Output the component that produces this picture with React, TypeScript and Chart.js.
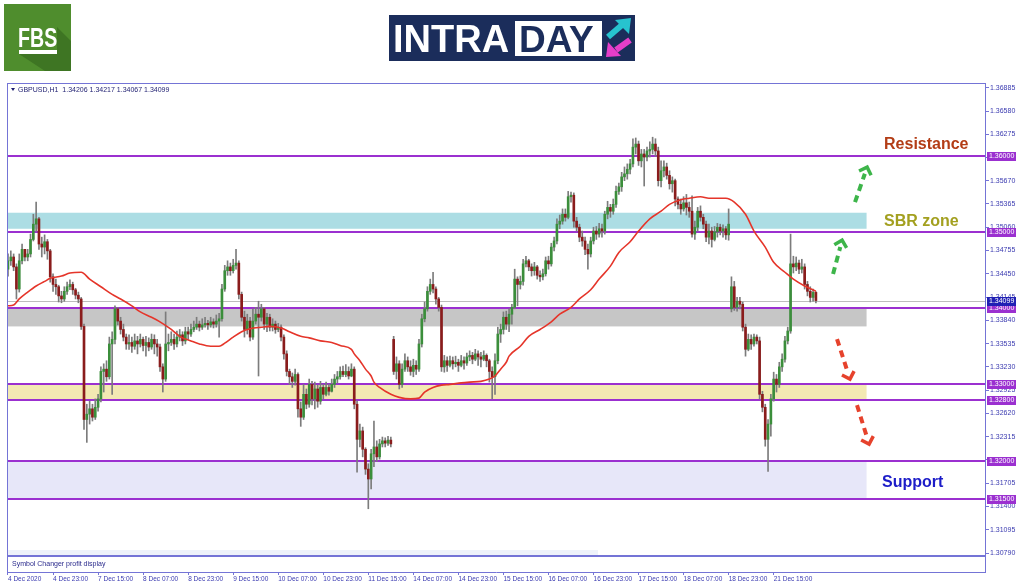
import React, { useEffect, useRef } from 'react';
import { Chart, registerables } from 'chart.js';

Chart.register(...registerables);

// ---------------- DATA ----------------
const symbolName = 'GBPUSD,H1';

// hourly closes, 4 Dec 2020 07:00 -> 22 Dec 2020 06:00 (bar index = hour bar)
const closes = [
  1.3462, 1.3467, 1.3454, 1.3425, 1.3462, 1.3477, 1.3467, 1.3471, 1.3490, 1.3510,
  1.3517, 1.3484, 1.3480, 1.3487, 1.3475, 1.3441, 1.3431, 1.3428, 1.3416, 1.3412,
  1.3422, 1.3428, 1.3431, 1.3424, 1.3417, 1.3412, 1.3376, 1.3254, 1.3261, 1.3268,
  1.3257, 1.3270, 1.3281, 1.3317, 1.3320, 1.3310, 1.3353, 1.3359, 1.3399, 1.3383,
  1.3372, 1.3362, 1.3353, 1.3355, 1.3350, 1.3357, 1.3353, 1.3359, 1.3351, 1.3355,
  1.3349, 1.3359, 1.3353, 1.3349, 1.3323, 1.3307, 1.3353, 1.3355, 1.3359, 1.3353,
  1.3362, 1.3365, 1.3357, 1.3369, 1.3366, 1.3372, 1.3375, 1.3379, 1.3375, 1.3378,
  1.3380, 1.3378, 1.3382, 1.3379, 1.3383, 1.3386, 1.3425, 1.3449, 1.3454, 1.3449,
  1.3456, 1.3459, 1.3418, 1.3388, 1.3372, 1.3383, 1.3362, 1.3383, 1.3392, 1.3388,
  1.3399, 1.3379, 1.3388, 1.3375, 1.3379, 1.3372, 1.3375, 1.3362, 1.3340, 1.3317,
  1.3310, 1.3304, 1.3313, 1.3268, 1.3257, 1.3287, 1.3274, 1.3300, 1.3281, 1.3294,
  1.3278, 1.3296, 1.3287, 1.3296, 1.3291, 1.3300, 1.3307, 1.3310, 1.3317, 1.3313,
  1.3317, 1.3311, 1.3320, 1.3274, 1.3228, 1.3239, 1.3215, 1.3189, 1.3176, 1.3209,
  1.3218, 1.3205, 1.3222, 1.3226, 1.3223, 1.3227, 1.3222, 1.3317, 1.3327, 1.3300,
  1.3320, 1.3331, 1.3323, 1.3317, 1.3325, 1.3320, 1.3353, 1.3386, 1.3399, 1.3422,
  1.3431, 1.3425, 1.3412, 1.3401, 1.3323, 1.3331, 1.3325, 1.3331, 1.3327, 1.3329,
  1.3325, 1.3331, 1.3328, 1.3336, 1.3338, 1.3333, 1.3340, 1.3336, 1.3333, 1.3338,
  1.3331, 1.3317, 1.3310, 1.3331, 1.3366, 1.3372, 1.3388, 1.3379, 1.3392, 1.3401,
  1.3438, 1.3431, 1.3435, 1.3458, 1.3462, 1.3454, 1.3449, 1.3454, 1.3443, 1.3441,
  1.3445, 1.3462, 1.3458, 1.3480, 1.3488, 1.3510, 1.3514, 1.3523, 1.3519, 1.3546,
  1.3548, 1.3514, 1.3506, 1.3493, 1.3488, 1.3477, 1.3471, 1.3488, 1.3501, 1.3497,
  1.3504, 1.3501, 1.3523, 1.3532, 1.3527, 1.3536, 1.3553, 1.3559, 1.3572, 1.3576,
  1.3582, 1.3589, 1.3611, 1.3615, 1.3593, 1.3602, 1.3598, 1.3606, 1.3608, 1.3615,
  1.3606, 1.3567, 1.3580, 1.3585, 1.3574, 1.3563, 1.3567, 1.3543, 1.3536, 1.3530,
  1.3538, 1.3532, 1.3527, 1.3497, 1.3506, 1.3527, 1.3519, 1.3510, 1.3493, 1.3501,
  1.3490, 1.3500, 1.3506, 1.3501, 1.3504, 1.3496, 1.3510, 1.3428, 1.3401, 1.3409,
  1.3405, 1.3375, 1.3346, 1.3359, 1.3353, 1.3362, 1.3357, 1.3287, 1.3270, 1.3228,
  1.3248, 1.3281, 1.3307, 1.3300, 1.3323, 1.3333, 1.3357, 1.3370, 1.3458, 1.3454,
  1.3459, 1.3451, 1.3454, 1.3431, 1.3422, 1.3414, 1.34206, 1.34099,
];

const highs = [
  1.3471, 1.3475, 1.3471, 1.3458, 1.3471, 1.3484, 1.3477, 1.3477, 1.3497, 1.3523,
  1.3539, 1.3519, 1.3493, 1.3496, 1.3490, 1.3477, 1.3445, 1.3438, 1.3430, 1.3422,
  1.3428, 1.3434, 1.3437, 1.3434, 1.3426, 1.3421, 1.3414, 1.3379, 1.3274, 1.3278,
  1.3274, 1.3281, 1.3287, 1.3323, 1.3327, 1.3331, 1.3362, 1.3369, 1.3403, 1.3401,
  1.3388, 1.3379, 1.3366, 1.3365, 1.3362, 1.3366, 1.3363, 1.3366, 1.3362, 1.3363,
  1.3361, 1.3366, 1.3365, 1.3359, 1.3353, 1.3327, 1.3395, 1.3366, 1.3369, 1.3366,
  1.3370, 1.3372, 1.3369, 1.3375, 1.3375, 1.3379, 1.3383, 1.3388, 1.3383, 1.3386,
  1.3388, 1.3384, 1.3388, 1.3386, 1.3391, 1.3393, 1.3431, 1.3456, 1.3462, 1.3459,
  1.3464, 1.3477, 1.3462, 1.3421, 1.3396, 1.3392, 1.3388, 1.3399, 1.3401, 1.3409,
  1.3405, 1.3401, 1.3393, 1.3392, 1.3386, 1.3383, 1.3380, 1.3378, 1.3365, 1.3344,
  1.3320, 1.3315, 1.3320, 1.3315, 1.3277, 1.3300, 1.3294, 1.3307, 1.3304, 1.3303,
  1.3299, 1.3304, 1.3300, 1.3303, 1.3300, 1.3307, 1.3313, 1.3317, 1.3323, 1.3324,
  1.3326, 1.3323, 1.3327, 1.3323, 1.3278, 1.3248, 1.3244, 1.3217, 1.3196, 1.3215,
  1.3252, 1.3226, 1.3228, 1.3231, 1.3230, 1.3232, 1.3231, 1.3363, 1.3336, 1.3331,
  1.3327, 1.3340, 1.3336, 1.3331, 1.3333, 1.3331, 1.3359, 1.3392, 1.3408, 1.3428,
  1.3438, 1.3447, 1.3428, 1.3414, 1.3404, 1.3338, 1.3336, 1.3337, 1.3336, 1.3337,
  1.3333, 1.3338, 1.3336, 1.3341, 1.3344, 1.3342, 1.3346, 1.3344, 1.3342, 1.3344,
  1.3340, 1.3333, 1.3323, 1.3340, 1.3375, 1.3379, 1.3395, 1.3396, 1.3399, 1.3405,
  1.3451, 1.3441, 1.3442, 1.3464, 1.3468, 1.3464, 1.3458, 1.3460, 1.3456, 1.3449,
  1.3451, 1.3467, 1.3468, 1.3485, 1.3493, 1.3517, 1.3522, 1.3530, 1.3530, 1.3553,
  1.3552, 1.3551, 1.3519, 1.3510, 1.3501, 1.3493, 1.3484, 1.3493, 1.3506, 1.3507,
  1.3511, 1.3510, 1.3527, 1.3540, 1.3536, 1.3543, 1.3560, 1.3564, 1.3578, 1.3585,
  1.3589, 1.3595, 1.3622, 1.3623, 1.3619, 1.3608, 1.3608, 1.3611, 1.3618, 1.3624,
  1.3622, 1.3611, 1.3593, 1.3593, 1.3590, 1.3580, 1.3572, 1.3569, 1.3546, 1.3543,
  1.3546, 1.3549, 1.3539, 1.3547, 1.3514, 1.3532, 1.3534, 1.3523, 1.3514, 1.3510,
  1.3506, 1.3507, 1.3511, 1.3510, 1.3509, 1.3507, 1.3530, 1.3441, 1.3435, 1.3414,
  1.3414, 1.3408, 1.3379, 1.3366, 1.3365, 1.3366, 1.3365, 1.3362, 1.3291, 1.3274,
  1.3254, 1.3287, 1.3316, 1.3313, 1.3329, 1.3340, 1.3363, 1.3375, 1.3497, 1.3468,
  1.3467, 1.3463, 1.3464, 1.3458, 1.3435, 1.3428, 1.3425, 1.34217,
];

const lows = [
  1.3442, 1.3456, 1.3449, 1.3412, 1.3421, 1.3458, 1.3462, 1.3462, 1.3467, 1.3488,
  1.3501, 1.3477, 1.3467, 1.3471, 1.3464, 1.3434, 1.3422, 1.3418, 1.3408, 1.3407,
  1.3409, 1.3418, 1.3424, 1.3418, 1.3412, 1.3407, 1.3372, 1.3241, 1.3224, 1.3248,
  1.3252, 1.3254, 1.3265, 1.3277, 1.3290, 1.3304, 1.3307, 1.3287, 1.3353, 1.3378,
  1.3366, 1.3357, 1.3346, 1.3346, 1.3342, 1.3346, 1.3340, 1.3349, 1.3344, 1.3337,
  1.3344, 1.3346, 1.3340, 1.3337, 1.3317, 1.3290, 1.3304, 1.3344, 1.3351, 1.3346,
  1.3349, 1.3357, 1.3351, 1.3353, 1.3359, 1.3363, 1.3369, 1.3372, 1.3370, 1.3372,
  1.3375, 1.3372, 1.3375, 1.3374, 1.3375, 1.3362, 1.3383, 1.3422, 1.3443, 1.3443,
  1.3446, 1.3451, 1.3412, 1.3383, 1.3362, 1.3366, 1.3357, 1.3359, 1.3379, 1.3311,
  1.3383, 1.3372, 1.3369, 1.3370, 1.3370, 1.3367, 1.3369, 1.3357, 1.3333, 1.3311,
  1.3300, 1.3296, 1.3299, 1.3257, 1.3245, 1.3254, 1.3268, 1.3270, 1.3273, 1.3268,
  1.3270, 1.3274, 1.3281, 1.3285, 1.3286, 1.3290, 1.3296, 1.3302, 1.3307, 1.3310,
  1.3310, 1.3307, 1.3310, 1.3268, 1.3185, 1.3218, 1.3205, 1.3182, 1.3137, 1.3163,
  1.3192, 1.3199, 1.3202, 1.3218, 1.3218, 1.3220, 1.3218, 1.3313, 1.3307, 1.3294,
  1.3296, 1.3317, 1.3317, 1.3312, 1.3310, 1.3313, 1.3317, 1.3349, 1.3382, 1.3396,
  1.3418, 1.3420, 1.3405, 1.3396, 1.3317, 1.3316, 1.3317, 1.3323, 1.3320, 1.3323,
  1.3317, 1.3323, 1.3320, 1.3325, 1.3331, 1.3327, 1.3331, 1.3325, 1.3323, 1.3331,
  1.3323, 1.3303, 1.3281, 1.3287, 1.3327, 1.3355, 1.3366, 1.3372, 1.3369, 1.3379,
  1.3399, 1.3403, 1.3425, 1.3430, 1.3454, 1.3449, 1.3442, 1.3443, 1.3438, 1.3435,
  1.3437, 1.3442, 1.3451, 1.3455, 1.3475, 1.3484, 1.3504, 1.3510, 1.3514, 1.3517,
  1.3539, 1.3506, 1.3501, 1.3487, 1.3481, 1.3470, 1.3451, 1.3467, 1.3484, 1.3490,
  1.3493, 1.3493, 1.3497, 1.3517, 1.3519, 1.3523, 1.3532, 1.3549, 1.3553, 1.3567,
  1.3569, 1.3576, 1.3585, 1.3602, 1.3587, 1.3585, 1.3560, 1.3593, 1.3598, 1.3602,
  1.3599, 1.3560, 1.3559, 1.3572, 1.3569, 1.3556, 1.3552, 1.3534, 1.3530, 1.3523,
  1.3527, 1.3522, 1.3519, 1.3493, 1.3490, 1.3501, 1.3514, 1.3504, 1.3487, 1.3484,
  1.3480, 1.3488, 1.3493, 1.3496, 1.3493, 1.3490, 1.3489, 1.3395, 1.3397, 1.3396,
  1.3399, 1.3370, 1.3337, 1.3344, 1.3346, 1.3350, 1.3353, 1.3281, 1.3264, 1.3219,
  1.3186, 1.3232, 1.3278, 1.3290, 1.3296, 1.3317, 1.3329, 1.3353, 1.3367, 1.3446,
  1.3449, 1.3445, 1.3446, 1.3425, 1.3416, 1.3408, 1.3409, 1.34067,
];

// opening prices of bars that follow a gap (first bar, weekend opens)
const gapOpenBars = [0, 137, 257];
const gapOpenValues = [1.3451, 1.3359, 1.3399];

// moving average
const maBars = [0, 2, 4, 7, 10, 13, 15, 19, 22, 26, 29, 33, 37, 40, 44, 47, 51, 54, 58, 61, 65, 68, 72, 75, 77,
  80, 83, 86, 90, 93, 97, 100, 104, 107, 111, 115, 118, 122, 123, 125, 127, 129, 130, 132, 136, 139, 143, 146,
  148, 151, 154, 157, 161, 164, 168, 171, 173, 175, 177, 178, 182, 185, 189, 193, 196, 200, 203, 207, 210, 214,
  217, 221, 224, 228, 232, 235, 239, 242, 246, 249, 253, 255, 258, 262, 265, 269, 272, 276, 279, 283, 287];
const maValues = [1.3403, 1.3404, 1.3412, 1.3421, 1.3429, 1.3435, 1.3439, 1.3442, 1.3446, 1.3447, 1.3438, 1.3428,
  1.3418, 1.3412, 1.3403, 1.3395, 1.3388, 1.3382, 1.3372, 1.3363, 1.3357, 1.3353, 1.3350, 1.3350, 1.3354, 1.3362,
  1.3369, 1.3373, 1.3375, 1.3376, 1.3374, 1.3369, 1.3363, 1.3361, 1.3357, 1.3355, 1.3351, 1.3346, 1.3340, 1.3331,
  1.3320, 1.3311, 1.3303, 1.3296, 1.3287, 1.3283, 1.3281, 1.3282, 1.3290, 1.3296, 1.3299, 1.3300, 1.3302, 1.3303,
  1.3304, 1.3307, 1.3311, 1.3320, 1.3329, 1.3337, 1.3350, 1.3363, 1.3372, 1.3382, 1.3392, 1.3401, 1.3412, 1.3424,
  1.3438, 1.3455, 1.3473, 1.3487, 1.3501, 1.3517, 1.3527, 1.3536, 1.3542, 1.3544, 1.3546, 1.3544, 1.3544, 1.3544,
  1.3539, 1.3523, 1.3501, 1.3480, 1.3460, 1.3447, 1.3438, 1.3429, 1.3422];

const xTickBars = [0, 16, 32, 48, 64, 80, 96, 112, 128, 144, 160, 176, 192, 208, 224, 240, 256, 272];
const xTickLabels = ['4 Dec 2020', '4 Dec 23:00', '7 Dec 15:00', '8 Dec 07:00', '8 Dec 23:00', '9 Dec 15:00',
  '10 Dec 07:00', '10 Dec 23:00', '11 Dec 15:00', '14 Dec 07:00', '14 Dec 23:00', '15 Dec 15:00',
  '16 Dec 07:00', '16 Dec 23:00', '17 Dec 15:00', '18 Dec 07:00', '18 Dec 23:00', '21 Dec 15:00'];

const yTickValues = [1.36885, 1.3658, 1.36275, 1.3597, 1.3567, 1.35365, 1.3506, 1.34755, 1.3445, 1.34145,
  1.3384, 1.33535, 1.3323, 1.32925, 1.3262, 1.32315, 1.3201, 1.31705, 1.314, 1.31095, 1.3079];
const yMin = 1.30541;
const yMax = 1.369505;
const xMin = -0.355;
const xMax = 347.07;

const levelPrices = [1.36, 1.35, 1.34, 1.33, 1.328, 1.32, 1.315];
const currentPrice = 1.34099;

const zoneLows = [1.3504, 1.3376, 1.328, 1.315];
const zoneHighs = [1.3525, 1.34, 1.33, 1.32];
const zoneStartBar = 0;
const zoneEndBar = 305;

const noteTexts = ['Resistance', 'SBR zone', 'Support'];
const noteBars = [311.2, 311.2, 310.5];
const notePrices = [1.36137, 1.3514, 1.31719];

const arrowTailBars = [293.1, 300.9, 294.5, 301.6];
const arrowTailPrices = [1.34446, 1.35389, 1.33594, 1.32729];
const arrowTipBars = [296.3, 305.2, 299.1, 305.9];
const arrowTipPrices = [1.34891, 1.35848, 1.33069, 1.32217];
const arrowUp = [true, true, false, false];

// ---------------- STYLE ----------------
const FONT = "'Liberation Sans', Arial, sans-serif";
const FRAME = '#7474d6';
const AXIS_TEXT = '#3a3ab0';
const LEVEL = '#9b30d0';
const BULL = '#3b8e3b';
const BEAR = '#8a1c1c';
const WICK = '#7c7c7c';
const ZONE_COLORS = ['#acdde4', '#c6c6c6', '#f3e9b3', '#e7e7f9'];
const NOTE_COLORS = ['#b33d16', '#a3a020', '#1c1cc8'];
const ARROW_UP = '#3db54a';
const ARROW_DOWN = '#e6422c';

const opens = closes.map((c, i) => {
  const g = gapOpenBars.indexOf(i);
  return g >= 0 ? gapOpenValues[g] : closes[i - 1];
});

function drawArrow(ctx: CanvasRenderingContext2D, x0: number, y0: number, x1: number, y1: number, color: string) {
  const dx = x1 - x0;
  const dy = y1 - y0;
  const len = Math.hypot(dx, dy);
  const ux = dx / len;
  const uy = dy / len;
  ctx.save();
  ctx.strokeStyle = color;
  ctx.lineWidth = 4;
  ctx.setLineDash([7, 5]);
  ctx.beginPath();
  ctx.moveTo(x0, y0);
  ctx.lineTo(x1 - ux * 7, y1 - uy * 7);
  ctx.stroke();
  ctx.setLineDash([]);
  ctx.lineWidth = 3.5;
  const bx = -ux;
  const by = -uy;
  const rot = (a: number) => [bx * Math.cos(a) - by * Math.sin(a), bx * Math.sin(a) + by * Math.cos(a)];
  const [a1x, a1y] = rot(Math.PI / 4);
  const [a2x, a2y] = rot(-Math.PI / 4);
  const s = 9;
  ctx.beginPath();
  ctx.moveTo(x1 + a1x * s, y1 + a1y * s);
  ctx.lineTo(x1, y1);
  ctx.lineTo(x1 + a2x * s, y1 + a2y * s);
  ctx.stroke();
  ctx.restore();
}

function drawLogos(ctx: CanvasRenderingContext2D) {
  // FBS logo
  ctx.save();
  ctx.fillStyle = '#4f8d2d';
  ctx.fillRect(4, 4, 67, 67);
  ctx.fillStyle = '#3e7523';
  ctx.beginPath();
  ctx.moveTo(57, 27);
  ctx.lineTo(71, 41);
  ctx.lineTo(71, 71);
  ctx.lineTo(45, 71);
  ctx.lineTo(19, 54);
  ctx.lineTo(57, 54);
  ctx.closePath();
  ctx.fill();
  ctx.fillStyle = '#ffffff';
  ctx.translate(18, 47);
  ctx.scale(0.7, 1);
  ctx.font = `bold 28px ${FONT}`;
  ctx.textBaseline = 'alphabetic';
  ctx.fillText('FBS', 0, 0);
  ctx.restore();
  ctx.fillStyle = '#ffffff';
  ctx.fillRect(19, 50, 38, 4);

  // INTRADAY logo
  ctx.save();
  ctx.fillStyle = '#1b2d5b';
  ctx.fillRect(389, 15, 246, 46);
  ctx.fillStyle = '#ffffff';
  ctx.font = `bold 38px ${FONT}`;
  ctx.textBaseline = 'alphabetic';
  ctx.fillText('INTRA', 393, 52);
  ctx.fillRect(515, 21, 87, 35);
  ctx.fillStyle = '#1b2d5b';
  ctx.font = `bold 37px ${FONT}`;
  ctx.fillText('DAY', 519, 52);
  // cyan arrow
  ctx.strokeStyle = '#27c3cf';
  ctx.lineWidth = 6;
  ctx.beginPath();
  ctx.moveTo(608, 37);
  ctx.lineTo(622, 25);
  ctx.stroke();
  ctx.fillStyle = '#27c3cf';
  ctx.beginPath();
  ctx.moveTo(631, 18);
  ctx.lineTo(615, 20);
  ctx.lineTo(629, 34);
  ctx.closePath();
  ctx.fill();
  // magenta arrow
  ctx.strokeStyle = '#e63ec9';
  ctx.beginPath();
  ctx.moveTo(630, 40);
  ctx.lineTo(616, 50);
  ctx.stroke();
  ctx.fillStyle = '#e63ec9';
  ctx.beginPath();
  ctx.moveTo(606, 57);
  ctx.lineTo(608, 42);
  ctx.lineTo(621, 56);
  ctx.closePath();
  ctx.fill();
  ctx.restore();
}

const overlayPlugin = {
  id: 'mtOverlay',
  beforeDatasetsDraw(chart: any) {
    const { ctx, chartArea: a, scales } = chart;
    const xs = scales.x;
    const ys = scales.y;
    ctx.save();
    // zones
    zoneLows.forEach((lo, i) => {
      const x0 = xs.getPixelForValue(zoneStartBar);
      const x1 = xs.getPixelForValue(zoneEndBar);
      const y0 = ys.getPixelForValue(zoneHighs[i]);
      const y1 = ys.getPixelForValue(lo);
      ctx.fillStyle = ZONE_COLORS[i];
      ctx.fillRect(x0, y0, x1 - x0, y1 - y0);
    });
    // current price line
    const yc = Math.round(ys.getPixelForValue(currentPrice)) + 0.5;
    ctx.strokeStyle = '#bdbdbd';
    ctx.lineWidth = 1;
    ctx.beginPath();
    ctx.moveTo(a.left, yc);
    ctx.lineTo(a.right, yc);
    ctx.stroke();
    // levels
    ctx.strokeStyle = LEVEL;
    ctx.lineWidth = 2;
    levelPrices.forEach((p) => {
      const yy = Math.round(ys.getPixelForValue(p));
      ctx.beginPath();
      ctx.moveTo(a.left, yy);
      ctx.lineTo(a.right, yy);
      ctx.stroke();
    });
    ctx.restore();
  },
  afterDraw(chart: any) {
    const { ctx, chartArea: a, scales } = chart;
    const xs = scales.x;
    const ys = scales.y;
    ctx.save();

    // sub window
    const subTop = a.bottom - 17;
    ctx.fillStyle = '#ffffff';
    ctx.fillRect(a.left + 1, subTop, a.right - a.left - 1, a.bottom - subTop);
    ctx.fillStyle = '#eef2fa';
    ctx.fillRect(a.left + 1, subTop - 5, 590, 5);
    ctx.fillStyle = FRAME;
    ctx.fillRect(a.left, subTop, a.right - a.left, 2);
    ctx.fillStyle = '#2a2a8c';
    ctx.font = `7px ${FONT}`;
    ctx.textBaseline = 'alphabetic';
    ctx.textAlign = 'left';
    ctx.fillText('Symbol Changer profit display', a.left + 5, subTop + 11);

    // frame top & left
    ctx.fillStyle = FRAME;
    ctx.fillRect(a.left, a.top, a.right - a.left, 1);
    ctx.fillRect(a.left, a.top, 1, a.bottom - a.top);

    // header
    const last = closes.length - 1;
    ctx.fillStyle = '#1e1e70';
    ctx.beginPath();
    ctx.moveTo(a.left + 4, a.top + 5);
    ctx.lineTo(a.left + 8, a.top + 5);
    ctx.lineTo(a.left + 6, a.top + 8);
    ctx.closePath();
    ctx.fill();
    ctx.font = `7px ${FONT}`;
    ctx.fillText(
      `${symbolName}  ${opens[last].toFixed(5)} ${highs[last].toFixed(5)} ${lows[last].toFixed(5)} ${closes[last].toFixed(5)}`,
      a.left + 11, a.top + 9,
    );

    // price labels on the right axis
    ctx.font = `7px ${FONT}`;
    ctx.textBaseline = 'middle';
    const boxAt = (p: number, color: string) => {
      const yy = Math.round(ys.getPixelForValue(p));
      ctx.fillStyle = color;
      ctx.fillRect(a.right + 2, yy - 4, 29, 9);
      ctx.fillStyle = '#ffffff';
      ctx.fillText(p.toFixed(5), a.right + 4, yy + 0.5);
    };
    levelPrices.forEach((p) => boxAt(p, LEVEL));
    boxAt(currentPrice, '#2020b4');

    // notes
    ctx.font = `bold 16px ${FONT}`;
    ctx.textBaseline = 'middle';
    noteTexts.forEach((t, i) => {
      ctx.fillStyle = NOTE_COLORS[i];
      ctx.fillText(t, xs.getPixelForValue(noteBars[i]), ys.getPixelForValue(notePrices[i]));
    });

    // arrows
    arrowTailBars.forEach((b, i) => {
      drawArrow(
        ctx,
        xs.getPixelForValue(b), ys.getPixelForValue(arrowTailPrices[i]),
        xs.getPixelForValue(arrowTipBars[i]), ys.getPixelForValue(arrowTipPrices[i]),
        arrowUp[i] ? ARROW_UP : ARROW_DOWN,
      );
    });
    ctx.restore();

    drawLogos(ctx);
  },
};

export default function App() {
  const ref = useRef<HTMLCanvasElement | null>(null);

  useEffect(() => {
    if (!ref.current) return;
    const wickData = closes.map((_, i) => ({ x: i, y: [lows[i], highs[i]] }));
    const bodyData = closes.map((c, i) => ({ x: i, y: [opens[i], c] }));
    const bodyColors = closes.map((c, i) => (c >= opens[i] ? BULL : BEAR));
    const maData = maBars.map((b, i) => ({ x: b, y: maValues[i] }));

    const chart = new Chart(ref.current, {
      type: 'bar',
      data: {
        datasets: [
          {
            type: 'line',
            label: 'MA',
            data: maData,
            borderColor: '#e5352a',
            borderWidth: 1.6,
            pointRadius: 0,
            cubicInterpolationMode: 'monotone',
            order: 0,
          } as any,
          {
            type: 'bar',
            label: 'body',
            data: bodyData,
            backgroundColor: bodyColors,
            borderWidth: 0,
            barThickness: 2,
            minBarLength: 1,
            grouped: false,
            order: 1,
          } as any,
          {
            type: 'bar',
            label: 'wick',
            data: wickData,
            backgroundColor: WICK,
            borderWidth: 0,
            barThickness: 1,
            grouped: false,
            order: 2,
          } as any,
        ],
      },
      options: {
        animation: false,
        responsive: true,
        maintainAspectRatio: false,
        devicePixelRatio: 1,
        events: [],
        layout: { padding: { left: 7, top: 83, right: 0, bottom: 0 } },
        plugins: { legend: { display: false }, tooltip: { enabled: false } },
        scales: {
          x: {
            type: 'linear',
            min: xMin,
            max: xMax,
            offset: false,
            grid: { offset: false, drawOnChartArea: false, tickLength: 3, color: FRAME },
            border: { color: FRAME },
            ticks: {
              autoSkip: false,
              maxRotation: 0,
              align: 'start',
              padding: 0,
              color: AXIS_TEXT,
              font: { family: FONT, size: 6.5 },
              callback: (_v: any, i: number) => xTickLabels[i],
            },
            afterBuildTicks: (s: any) => {
              s.ticks = xTickBars.map((v) => ({ value: v }));
            },
            afterFit: (s: any) => {
              s.height = 15;
            },
          },
          y: {
            type: 'linear',
            position: 'right',
            min: yMin,
            max: yMax,
            beginAtZero: false,
            grid: { drawOnChartArea: false, tickLength: 4, color: FRAME },
            border: { color: FRAME },
            ticks: {
              autoSkip: false,
              padding: 1,
              color: AXIS_TEXT,
              font: { family: FONT, size: 7 },
              callback: (v: any) => Number(v).toFixed(5),
            },
            afterBuildTicks: (s: any) => {
              s.ticks = yTickValues.map((v) => ({ value: v }));
            },
            afterFit: (s: any) => {
              s.width = 39;
            },
          },
        },
      } as any,
      plugins: [overlayPlugin],
    });
    return () => chart.destroy();
  }, []);

  return (
    <div style={{ position: 'absolute', left: 0, top: 0, width: 1024, height: 587, background: '#ffffff' }}>
      <canvas ref={ref} />
    </div>
  );
}
